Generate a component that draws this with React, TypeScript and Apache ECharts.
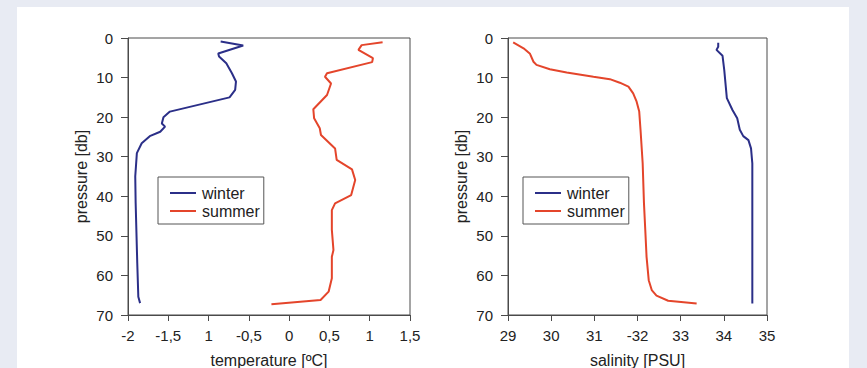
import React, { useEffect, useRef } from "react";
import * as echarts from "echarts";

// Temperature profiles: [temperature °C, pressure db]
const tempWinter: [number, number][] = [
  [-0.85, 0.9], [-0.57, 1.9], [-0.88, 3.9], [-0.87, 4.7], [-0.78, 6.4], [-0.71, 8.9],
  [-0.66, 11.0], [-0.67, 13.1], [-0.74, 15.0], [-1.48, 18.6], [-1.56, 20.0], [-1.58, 21.6],
  [-1.54, 22.4], [-1.6, 23.7], [-1.73, 24.8], [-1.83, 26.6], [-1.89, 29.1], [-1.91, 35.0],
  [-1.905, 41.7], [-1.885, 56.9], [-1.872, 65.4], [-1.85, 67.0],
];
const tempSummer: [number, number][] = [
  [1.16, 1.1], [0.9, 1.8], [0.86, 3.0], [1.04, 5.1], [1.03, 6.1], [0.47, 8.9], [0.445, 9.8],
  [0.52, 11.5], [0.47, 14.4], [0.3, 18.0], [0.31, 20.3], [0.38, 22.8], [0.395, 24.5],
  [0.57, 27.9], [0.59, 30.8], [0.78, 33.2], [0.82, 35.9], [0.77, 39.7], [0.57, 41.8],
  [0.53, 43.5], [0.53, 48.5], [0.54, 51.0], [0.55, 53.6], [0.53, 55.3], [0.53, 60.7],
  [0.49, 64.1], [0.39, 66.2], [-0.22, 67.3],
];
// Salinity profiles: [salinity PSU, pressure db]
const salWinter: [number, number][] = [
  [33.87, 1.2], [33.87, 2.2], [33.83, 3.0], [33.97, 4.5], [34.01, 8.1], [34.07, 15.2],
  [34.2, 18.2], [34.31, 20.3], [34.37, 23.2], [34.45, 24.8], [34.57, 25.8], [34.63, 27.9],
  [34.66, 31.7], [34.66, 67.1],
];
const salSummer: [number, number][] = [
  [29.12, 1.1], [29.36, 2.6], [29.51, 4.0], [29.59, 6.0], [29.66, 6.8], [29.97, 7.9],
  [30.36, 8.7], [30.98, 9.8], [31.36, 10.4], [31.59, 11.3], [31.79, 12.3], [31.9, 14.0],
  [31.98, 16.1], [32.04, 18.6], [32.07, 23.2], [32.12, 31.7], [32.15, 41.8], [32.18, 48.5],
  [32.21, 55.3], [32.26, 61.2], [32.33, 63.7], [32.44, 65.1], [32.71, 66.4], [33.37, 67.1],
];

const tempTickLabels = ["-2", "-1,5", "1", "-0,5", "0", "0,5", "1", "1,5"];
const salTickLabels = ["29", "30", "31", "-32", "33", "34", "35"];
const seriesNames = ["winter", "summer"];
const colors = ["#2b2f88", "#e4452b"];

const FONT = "Liberation Sans, Arial, sans-serif";
const AXIS_COLOR = "#4a4a4a";
const TEXT_COLOR = "#222";

export default function App() {
  const ref = useRef<HTMLDivElement>(null);
  useEffect(() => {
    if (!ref.current) return;
    const chart = echarts.init(ref.current, undefined, { renderer: "svg" });
    const grids = [
      { left: 128, top: 38, width: 282, height: 277 },
      { left: 508, top: 38, width: 259, height: 277 },
    ];
    const xAxisCommon = (i: number) => ({
      gridIndex: i,
      type: "value" as const,
      axisLine: { show: true, onZero: false, lineStyle: { color: AXIS_COLOR, width: 1 } },
      axisTick: { show: true, length: 6, lineStyle: { color: AXIS_COLOR } },
      splitLine: { show: false },
      axisLabel: { color: TEXT_COLOR, fontSize: 15, fontFamily: FONT, margin: 13 },
      nameLocation: "middle" as const,
      nameGap: 37,
      nameTextStyle: { color: TEXT_COLOR, fontSize: 16, fontFamily: FONT },
    });
    const yAxisCommon = (i: number) => ({
      gridIndex: i,
      type: "value" as const,
      inverse: true,
      min: 0,
      max: 70,
      interval: 10,
      name: "pressure [db]",
      nameLocation: "middle" as const,
      nameGap: 39,
      nameTextStyle: { color: TEXT_COLOR, fontSize: 16, fontFamily: FONT },
      axisLine: { show: true, onZero: false, lineStyle: { color: AXIS_COLOR, width: 1 } },
      axisTick: { show: true, length: 7, lineStyle: { color: AXIS_COLOR } },
      splitLine: { show: false },
      axisLabel: { color: TEXT_COLOR, fontSize: 15, fontFamily: FONT, margin: 15 },
    });
    const mkSeries = (name: string, data: [number, number][], idx: number, color: string) => ({
      type: "line" as const,
      name,
      data,
      xAxisIndex: idx,
      yAxisIndex: idx,
      showSymbol: false,
      symbol: "none",
      lineStyle: { color, width: 2 },
      itemStyle: { color },
    });
    const mkLegend = (left: number) => ({
      orient: "vertical" as const,
      left,
      top: 177,
      data: seriesNames,
      icon: "rect",
      itemWidth: 26,
      itemHeight: 2,
      itemGap: 2,
      padding: [8, 4, 5, 12],
      borderColor: "#555",
      borderWidth: 1,
      backgroundColor: "#fff",
      textStyle: { color: TEXT_COLOR, fontSize: 16, fontFamily: FONT, padding: [0, 0, 0, 1] },
    });
    chart.setOption({
      animation: false,
      backgroundColor: "transparent",
      grid: grids.map((g) => ({
        ...g,
        show: true,
        backgroundColor: "#fff",
        borderColor: AXIS_COLOR,
        borderWidth: 1,
        containLabel: false,
        outerBoundsMode: "none",
      })),
      xAxis: [
        {
          ...xAxisCommon(0),
          min: -2,
          max: 1.5,
          interval: 0.5,
          name: "temperature [ºC]",
          axisLabel: {
            ...xAxisCommon(0).axisLabel,
            formatter: (v: number) => tempTickLabels[Math.round((v + 2) / 0.5)] ?? "",
          },
        },
        {
          ...xAxisCommon(1),
          min: 29,
          max: 35,
          interval: 1,
          name: "salinity [PSU]",
          axisLabel: {
            ...xAxisCommon(1).axisLabel,
            formatter: (v: number) => salTickLabels[Math.round(v - 29)] ?? "",
          },
        },
      ],
      yAxis: [yAxisCommon(0), yAxisCommon(1)],
      legend: [mkLegend(158), mkLegend(523)],
      series: [
        mkSeries(seriesNames[0], tempWinter, 0, colors[0]),
        mkSeries(seriesNames[1], tempSummer, 0, colors[1]),
        mkSeries(seriesNames[0], salWinter, 1, colors[0]),
        mkSeries(seriesNames[1], salSummer, 1, colors[1]),
      ],
    });
    return () => chart.dispose();
  }, []);

  return (
    <div
      style={{
        position: "fixed",
        left: 0,
        top: 0,
        width: 867,
        height: 368,
        background: "#e8ebf3",
        overflow: "hidden",
      }}
    >
      <div
        style={{
          position: "absolute",
          left: 17,
          top: 7,
          width: 832,
          height: 361,
          background: "#fff",
        }}
      />
      <div ref={ref} style={{ position: "absolute", left: 0, top: 0, width: 867, height: 368 }} />
    </div>
  );
}
